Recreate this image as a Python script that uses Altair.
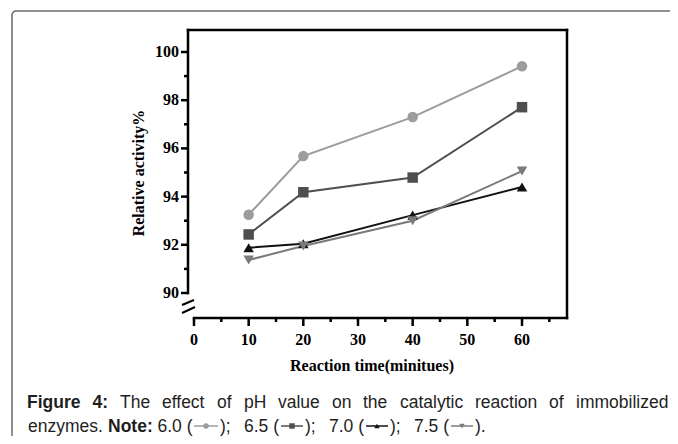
import altair as alt
import pandas as pd

# ---------------- data ----------------
times = [10, 20, 40, 60]
ph_labels = ["6.0", "6.5", "7.0", "7.5"]
act_ph60 = [93.25, 95.68, 97.30, 99.41]
act_ph65 = [92.43, 94.18, 94.79, 97.71]
act_ph70 = [91.88, 92.04, 93.23, 94.40]
act_ph75 = [91.37, 91.95, 93.00, 95.06]

x_major = [0, 10, 20, 30, 40, 50, 60]
x_minor = [5, 15, 25, 35, 45, 55, 65]
y_major = [90, 92, 94, 96, 98, 100]
y_minor = [91, 93, 95, 97, 99]

series_colors = ["#9c9c9c", "#4f4f4f", "#111111", "#7a7a7a"]
series_shapes = ["circle", "square", "triangle-up", "triangle-down"]

# caption text (line 1 is justified, so each word sits at its own x)
cap_l1_words = ["4:", "The", "effect", "of", "pH", "value", "on", "the",
                "catalytic", "reaction", "of", "immobilized"]
cap_l1_x = [84.5, 112, 154, 209, 236, 270, 324, 355, 392, 467, 541, 568]
cap_l2_words = ["enzymes.", "6.0 (", ");", "6.5 (", ");", "7.0 (", ");", "7.5 (", ")."]
cap_l2_x = [20, 149.5, 212, 236, 297, 321, 382, 406, 467]
cap_bold_words = ["Figure", "4:", "Note:"]
cap_bold_x = [19, 84.5, 100]
sym_x1 = [186, 273, 358, 443]
sym_x2 = [210, 295, 380, 465]

# ---------------- layout constants ----------------
W, H = 662, 428
X_DOMAIN = [-34.02, 87.07]
Y_DOMAIN = [84.066, 101.826]
XS = alt.Scale(domain=X_DOMAIN, nice=False, zero=False)
YS = alt.Scale(domain=Y_DOMAIN, nice=False, zero=False)
Y_AXIS_X = -1.094
X_RIGHT = 68.23
Y_TOP = 100.913
X_AXIS_Y = 88.963

SERIF = "Liberation Serif, Times New Roman, serif"
SANS = "Liberation Sans, Arial, sans-serif"
CAP_SIZE = 17.5

rows = []
for ph, vals in zip(ph_labels, [act_ph60, act_ph65, act_ph70, act_ph75]):
    for t, v in zip(times, vals):
        rows.append({"time": t, "activity": v, "ph": ph})
df = pd.DataFrame(rows)

color_scale = alt.Scale(domain=ph_labels, range=series_colors)
shape_scale = alt.Scale(domain=ph_labels, range=series_shapes)

X = lambda f: alt.X(f, scale=XS, axis=None)
Y = lambda f: alt.Y(f, scale=YS, axis=None)

lines = alt.Chart(df).mark_line(strokeWidth=2).encode(
    x=X("time:Q"), y=Y("activity:Q"),
    color=alt.Color("ph:N", scale=color_scale, legend=None),
    detail="ph:N",
)
points = alt.Chart(df).mark_point(filled=True, size=110, opacity=1).encode(
    x=X("time:Q"), y=Y("activity:Q"),
    color=alt.Color("ph:N", scale=color_scale, legend=None),
    shape=alt.Shape("ph:N", scale=shape_scale, legend=None),
)

frame_df = pd.DataFrame({
    "x": [Y_AXIS_X, Y_AXIS_X, X_RIGHT, 0],
    "x2": [Y_AXIS_X, X_RIGHT, X_RIGHT, X_RIGHT],
    "y": [90, Y_TOP, Y_TOP, X_AXIS_Y],
    "y2": [Y_TOP, Y_TOP, X_AXIS_Y, X_AXIS_Y],
})
frame = alt.Chart(frame_df).mark_rule(strokeWidth=2.5, color="black", strokeCap="square").encode(
    x=X("x:Q"), x2="x2:Q", y=Y("y:Q"), y2="y2:Q",
)

# ticks
ymaj = alt.Chart(pd.DataFrame({"v": y_major})).mark_rule(strokeWidth=2.5, color="black").encode(
    y=Y("v:Q"), x=alt.value(173), x2=alt.value(180))
ymin = alt.Chart(pd.DataFrame({"v": y_minor})).mark_rule(strokeWidth=2.5, color="black").encode(
    y=Y("v:Q"), x=alt.value(176), x2=alt.value(180))
xmaj = alt.Chart(pd.DataFrame({"v": x_major})).mark_rule(strokeWidth=2.5, color="black").encode(
    x=X("v:Q"), y=alt.value(310), y2=alt.value(318))
xmin = alt.Chart(pd.DataFrame({"v": x_minor})).mark_rule(strokeWidth=2.5, color="black").encode(
    x=X("v:Q"), y=alt.value(310), y2=alt.value(314))

# tick labels
ylab = alt.Chart(pd.DataFrame({"v": y_major})).mark_text(
    font=SERIF, fontWeight="bold", fontSize=16, align="right", baseline="middle",
    color="black").encode(y=Y("v:Q"), x=alt.value(171), text=alt.Text("v:Q", format="d"))
xlab = alt.Chart(pd.DataFrame({"v": x_major})).mark_text(
    font=SERIF, fontWeight="bold", fontSize=16, align="center", baseline="alphabetic",
    color="black").encode(x=X("v:Q"), y=alt.value(337), text=alt.Text("v:Q", format="d"))

brk1 = alt.Chart(pd.DataFrame({"a": [0]})).mark_rule(strokeWidth=2, color="black").encode(
    x=alt.value(174), x2=alt.value(186), y=alt.value(297), y2=alt.value(292))
brk2 = alt.Chart(pd.DataFrame({"a": [0]})).mark_rule(strokeWidth=2, color="black").encode(
    x=alt.value(174), x2=alt.value(187), y=alt.value(305), y2=alt.value(299))

border = alt.Chart(pd.DataFrame({"a": [0]})).mark_rect(
    fill=None, stroke="#6a6a6a", strokeWidth=1.5, cornerRadius=4).encode(
    x=alt.value(4), x2=alt.value(720), y=alt.value(3), y2=alt.value(600))

ytitle = alt.Chart(pd.DataFrame({"t": ["Relative activity%"]})).mark_text(
    font=SERIF, fontWeight="bold", fontSize=16, angle=270, align="center",
    baseline="middle", color="black").encode(
    text="t:N", x=alt.value(131), y=alt.value(165))
xtitle = alt.Chart(pd.DataFrame({"t": ["Reaction time(minitues)"]})).mark_text(
    font=SERIF, fontWeight="bold", fontSize=16, align="center",
    baseline="alphabetic", color="black").encode(
    text="t:N", x=alt.value(364), y=alt.value(363))

# caption
cap_norm = pd.DataFrame({
    "t": cap_l1_words[1:] + cap_l2_words,
    "x": cap_l1_x[1:] + cap_l2_x,
    "y": [400] * (len(cap_l1_words) - 1) + [424] * len(cap_l2_words),
})
cap_bold = pd.DataFrame({"t": cap_bold_words, "x": cap_bold_x, "y": [400, 400, 424]})
cap1 = alt.Chart(cap_norm).mark_text(font=SANS, fontSize=CAP_SIZE, align="left",
                                     baseline="alphabetic", color="#1e1e1e").encode(
    text="t:N", x=alt.X("x:Q", scale=None, axis=None), y=alt.Y("y:Q", scale=None, axis=None))
cap2 = alt.Chart(cap_bold).mark_text(font=SANS, fontSize=CAP_SIZE, fontWeight="bold", align="left",
                                     baseline="alphabetic", color="#1e1e1e").encode(
    text="t:N", x=alt.X("x:Q", scale=None, axis=None), y=alt.Y("y:Q", scale=None, axis=None))

sym_df = pd.DataFrame({"ph": ph_labels, "x1": sym_x1, "x2": sym_x2,
                       "cx": [(a + b) / 2 for a, b in zip(sym_x1, sym_x2)], "y": [418] * 4})
sym_line = alt.Chart(sym_df).mark_rule(strokeWidth=1.5).encode(
    x=alt.X("x1:Q", scale=None, axis=None), x2="x2:Q", y=alt.Y("y:Q", scale=None, axis=None),
    color=alt.Color("ph:N", scale=color_scale, legend=None))
sym_pt = alt.Chart(sym_df).mark_point(filled=True, size=30, opacity=1).encode(
    x=alt.X("cx:Q", scale=None, axis=None), y=alt.Y("y:Q", scale=None, axis=None),
    color=alt.Color("ph:N", scale=color_scale, legend=None),
    shape=alt.Shape("ph:N", scale=shape_scale, legend=None))

chart = alt.layer(
    border, frame, ymaj, ymin, xmaj, xmin, ylab, xlab, brk1, brk2, lines, points,
    ytitle, xtitle, cap1, cap2, sym_line, sym_pt,
).properties(
    width=W, height=H, padding=0, autosize=alt.AutoSizeParams(type="none"),
    background="white",
).configure_view(stroke=None)

chart.save("out.html", embed_options={"renderer": "svg", "actions": False})
